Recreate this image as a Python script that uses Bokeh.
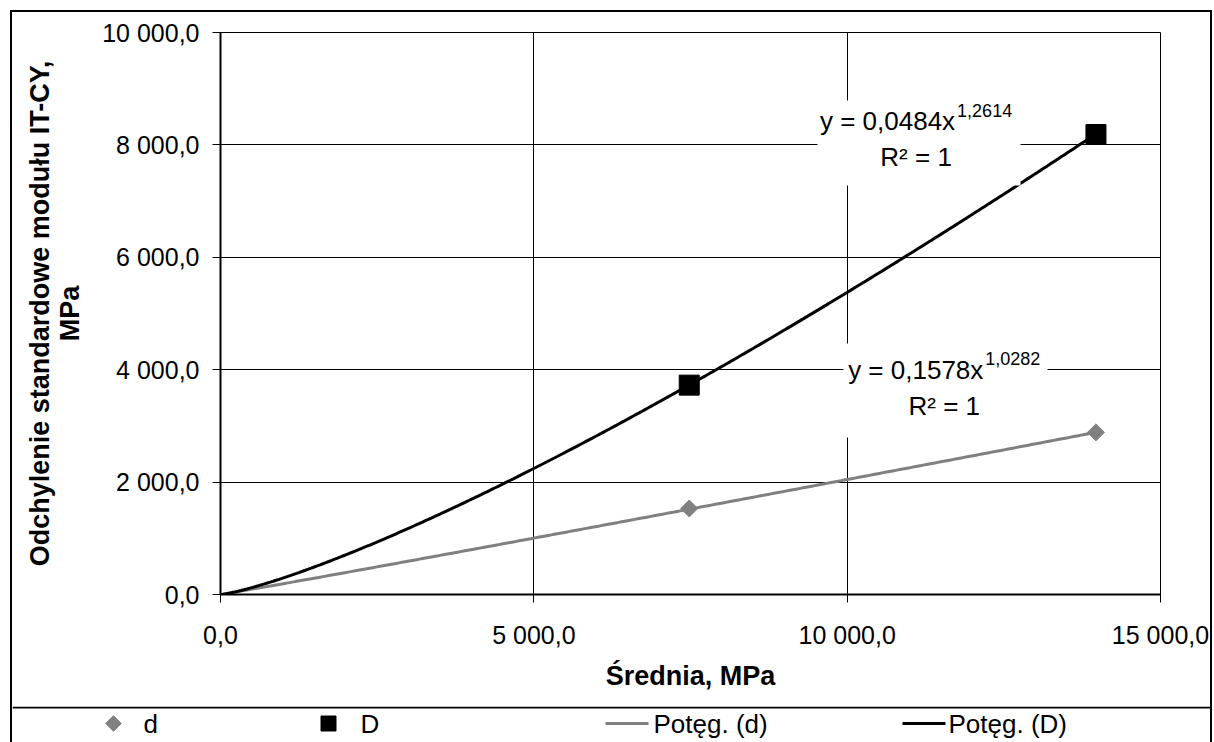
import numpy as np
from bokeh.plotting import figure
from bokeh.layouts import column
from bokeh.core.properties import value
from bokeh.models import Range1d, FixedTicker, Label, BoxAnnotation, Span
from bokeh.embed import file_html
from bokeh.resources import INLINE

# ---------------- data ----------------
srednia = [7480, 13970]          # x values (Średnia, MPa)
d_vals = [1530, 2885]            # series d
D_vals = [3725, 8185]            # series D
d_coef, d_exp = 0.1578, 1.0282   # power trend line of d
D_coef, D_exp = 0.0484, 1.2614   # power trend line of D

x_ticks = [0, 5000, 10000, 15000]
x_tick_labels = ["0,0", "5 000,0", "10 000,0", "15 000,0"]
y_ticks = [0, 2000, 4000, 6000, 8000, 10000]
y_tick_labels = ["0,0", "2 000,0", "4 000,0", "6 000,0", "8 000,0", "10 000,0"]

series_names = ["d", "D", "Potęg. (d)", "Potęg. (D)"]
eq_d = ["y = 0,1578x", "1,0282", "R² = 1"]
eq_D = ["y = 0,0484x", "1,2614", "R² = 1"]
x_title = "Średnia, MPa"
y_title = "Odchylenie standardowe modułu IT-CY,\nMPa"

FONT = "Liberation Sans"
GREY = "#808080"

# ---------------- main chart ----------------
p = figure(width=1198, height=694,
           x_range=Range1d(0, 15000), y_range=Range1d(0, 10000),
           output_backend="svg", toolbar_location=None,
           min_border_left=208, min_border_right=50,
           min_border_top=20, min_border_bottom=112,
           background_fill_color="white", border_fill_color="white")
p.frame_align = False
p.outline_line_color = "black"
p.outline_line_width = 1

xt = FixedTicker(ticks=x_ticks)
yt = FixedTicker(ticks=y_ticks)
p.xaxis.ticker = xt
p.yaxis.ticker = yt
p.xgrid.ticker = xt
p.ygrid.ticker = yt
for g in (p.xgrid, p.ygrid):
    g.grid_line_color = "black"
    g.grid_line_width = 1

p.xaxis.major_label_overrides = {int(k): v for k, v in zip(x_ticks, x_tick_labels)}
p.yaxis.major_label_overrides = {int(k): v for k, v in zip(y_ticks, y_tick_labels)}

for ax in (p.xaxis, p.yaxis):
    ax.axis_line_color = "black"
    ax.axis_line_width = 2
    ax.major_tick_line_color = "black"
    ax.major_tick_line_width = 1
    ax.major_tick_out = 8
    ax.major_tick_in = 0
    ax.minor_tick_line_color = None
    ax.major_label_text_font = FONT
    ax.major_label_text_font_size = "25px"
    ax.major_label_text_color = "black"
    ax.axis_label_text_font = FONT
    ax.axis_label_text_font_size = "27px"
    ax.axis_label_text_font_style = "bold"
    ax.axis_label_text_color = "black"
    ax.axis_label_text_line_height = 1.0

p.xaxis.major_label_standoff = 18
p.yaxis.major_label_standoff = 13
p.xaxis.axis_label = x_title
p.yaxis.axis_label = y_title
p.xaxis.axis_label_standoff = 9
p.yaxis.axis_label_standoff = 14

# ---------------- trend lines & points ----------------
xs = np.linspace(0, max(srednia), 300)
trend_d = d_coef * xs ** d_exp
trend_D = D_coef * xs ** D_exp

p.line(xs, trend_d, line_color=GREY, line_width=3)
p.line(xs, trend_D, line_color="black", line_width=3)
p.scatter(srednia, d_vals, marker="square", angle=np.pi / 4, size=12,
          fill_color=GREY, line_color=GREY)
p.scatter(srednia, D_vals, marker="square", size=20,
          fill_color="black", line_color="black")

# ---------------- equation labels ----------------
def equation(texts, x, y, box):
    l, r, t, b = box
    p.add_layout(BoxAnnotation(left=l, right=r, top=t, bottom=b,
                               fill_color="white", fill_alpha=1, line_color=None))
    main, sup, r2 = texts
    p.add_layout(Label(x=x, y=y, x_offset=39, y_offset=18, text=main,
                       text_align="right", text_baseline="middle",
                       text_font=FONT, text_font_size="26px", text_color="black"))
    p.add_layout(Label(x=x, y=y, x_offset=41, y_offset=29, text=sup,
                       text_align="left", text_baseline="middle",
                       text_font=FONT, text_font_size="18px", text_color="black"))
    p.add_layout(Label(x=x, y=y, x_offset=0, y_offset=-18, text=r2,
                       text_align="center", text_baseline="middle",
                       text_font=FONT, text_font_size="26px", text_color="black"))

equation(eq_D, 11100, 8100, (9527, 12766, 8790, 7278))
equation(eq_d, 11550, 3675, (9941, 13197, 4466, 2794))

# ---------------- legend row ----------------
# coordinates of this strip are page pixels (x from the left, y downward)
leg = figure(width=1198, height=36,
             x_range=Range1d(12, 1210), y_range=Range1d(742, 706),
             output_backend="svg", toolbar_location=None,
             min_border=0, x_axis_location=None, y_axis_location=None,
             background_fill_color="white", border_fill_color="white")
leg.frame_align = False
leg.outline_line_color = None
leg.grid.visible = False

row_y = 723
leg.add_layout(Span(location=707, dimension="width", line_color="black", line_width=2))
leg.scatter([113], [row_y], marker="square", angle=np.pi / 4, size=11,
            fill_color=GREY, line_color=GREY)
leg.scatter([328], [row_y], marker="square", size=15,
            fill_color="black", line_color="black")
leg.segment(x0=[605, 902], y0=[row_y, row_y], x1=[648, 945], y1=[row_y, row_y],
            line_color=[GREY, "black"], line_width=3)
leg.text(x=[143, 360, 653, 948], y=[row_y] * 4, text=series_names,
         text_font=value(FONT), text_font_size=value("26px"), text_color="black",
         text_baseline="middle", text_align="left")

layout = column(p, leg, margin=(12, 0, 0, 12), spacing=0,
                styles={"outline": "2px solid black"})

open("out.html", "w").write(file_html(layout, INLINE))
